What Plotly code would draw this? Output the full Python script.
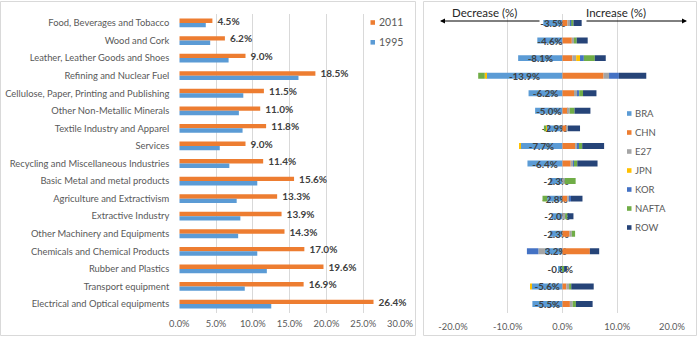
import plotly.graph_objects as go

# ---------------- data ----------------
sectors = [
    "Food, Beverages and Tobacco", "Wood and Cork", "Leather, Leather Goods and Shoes",
    "Refining and Nuclear Fuel", "Cellulose, Paper, Printing and Publishing",
    "Other Non-Metallic Minerals", "Textile Industry and Apparel", "Services",
    "Recycling and Miscellaneous Industries", "Basic Metal and metal products",
    "Agriculture and Extractivism", "Extractive Industry", "Other Machinery and Equipments",
    "Chemicals and Chemical Products", "Rubber and Plastics", "Transport equipment",
    "Electrical and Optical equipments",
]
share_2011 = [4.5, 6.2, 9.0, 18.5, 11.5, 11.0, 11.8, 9.0, 11.4, 15.6, 13.3, 13.9, 14.3, 17.0, 19.6, 16.9, 26.4]
share_1995 = [3.6, 4.2, 6.7, 16.2, 8.7, 8.1, 8.6, 5.5, 6.8, 10.6, 7.8, 8.3, 8.0, 10.6, 11.9, 8.9, 12.5]

regions = ["BRA", "CHN", "E27", "JPN", "KOR", "NAFTA", "ROW"]
chg_BRA = [-3.5, -4.6, -8.1, -13.9, -6.2, -5.0, -2.9, -7.7, -6.4, -2.3, -2.8, -2.0, -2.3, -3.2, -0.8, -5.6, -5.5]
chg_CHN = [0.9, 1.7, 1.8, 7.5, 2.1, 1.0, 0.8, 2.3, 1.5, 0.0, 0.85, 0.0, 1.3, 5.0, 0.0, 0.7, 1.35]
chg_E27 = [0.6, 0.4, 0.7, 1.0, 0.6, 0.3, 0.2, 0.4, 0.5, 0.4, 0.5, 0.5, 0.4, -1.2, 0.0, 0.5, 0.5]
chg_JPN = [0.0, 0.0, 0.7, -0.3, 0.0, 0.0, -0.1, -0.1, 0.0, 0.0, 0.0, 0.0, 0.0, 0.0, 0.0, -0.3, 0.0]
chg_KOR = [0.1, 0.0, 0.7, 1.8, 0.35, 0.0, 0.0, 0.3, 0.1, 0.0, 0.2, 0.0, 0.0, -2.1, 0.0, 0.0, 0.0]
chg_NAFTA = [0.4, 0.5, 2.0, -1.2, 0.7, 0.9, -0.4, 0.6, 0.6, 2.0, -0.85, 0.4, 0.6, 0.0, 0.3, 0.4, 0.6]
chg_ROW = [1.5, 2.0, 2.0, 5.0, 2.45, 2.9, 2.2, 4.0, 3.7, 0.0, 2.1, 1.1, 0.0, 1.7, 0.5, 4.1, 3.05]

left_ticks = [0, 5, 10, 15, 20, 25, 30]
left_ticktext = ["0.0%", "5.0%", "10.0%", "15.0%", "20.0%", "25.0%", "30.0%"]
right_ticks = [-20, -10, 0, 10, 20]
right_ticktext = ["-20.0%", "-10.0%", "0.0%", "10.0%", "20.0%"]

# ---------------- style ----------------
W, H = 697, 338
FONT = "Lato"
GRID = "#D9D9D9"
TXT = "#595959"
LBL = "#404040"
region_colors = ["#5B9BD5", "#ED7D31", "#A5A5A5", "#FFC000", "#4472C4", "#70AD47", "#264478"]


def px(x):
    return x / W


def py(y):
    return 1 - y / H


ydom = [py(312.8), py(14.2)]
ncat = len(sectors)
yrange = [ncat - 0.5, -0.5]

fig = go.Figure()

# left: grouped bars (2011 above, 1995 below)
fig.add_trace(go.Bar(
    y=sectors, x=share_2011, orientation="h", name="2011",
    marker=dict(color="#ED7D31", line=dict(width=0)),
    offset=-0.25, width=0.25, xaxis="x", yaxis="y",
    text=["\u2002<b>%.1f%%</b>" % v for v in share_2011], textposition="outside",
    constraintext="none", textangle=0,
    outsidetextfont=dict(family=FONT, size=10, color=LBL), cliponaxis=False,
))
fig.add_trace(go.Bar(
    y=sectors, x=share_1995, orientation="h", name="1995",
    marker=dict(color="#5B9BD5", line=dict(width=0)),
    offset=0.0, width=0.25, xaxis="x", yaxis="y3",
))

# right: diverging stacked bars
changes = [chg_BRA, chg_CHN, chg_E27, chg_JPN, chg_KOR, chg_NAFTA, chg_ROW]
for name, vals, col in zip(regions, changes, region_colors):
    kw = {}
    if name == "BRA":
        kw = dict(
            text=["<b>%.1f%%</b>" % v for v in vals], textposition="inside",
            insidetextanchor="middle", textangle=0, constraintext="none",
            insidetextfont=dict(family=FONT, size=9.8, color=LBL),
        )
    fig.add_trace(go.Bar(
        y=sectors, x=vals, orientation="h", name=name,
        marker=dict(color=col, line=dict(width=0)), width=0.34,
        xaxis="x2", yaxis="y2", cliponaxis=False, **kw,
    ))

fig.update_layout(
    width=W, height=H, margin=dict(l=0, r=0, t=0, b=0, autoexpand=False),
    paper_bgcolor="white", plot_bgcolor="white",
    barmode="relative", showlegend=False,
    font=dict(family=FONT, color=TXT),
    xaxis=dict(domain=[px(179.3), px(400)], range=[0, 30], anchor="y", automargin=False,
               tickvals=left_ticks, ticktext=left_ticktext, showgrid=True, gridcolor=GRID,
               gridwidth=1, zeroline=False, showline=False, ticks="", ticklabelstandoff=4,
               tickfont=dict(family=FONT, size=9.3, color=TXT)),
    yaxis=dict(domain=ydom, type="category", categoryorder="array", categoryarray=sectors,
               range=yrange, anchor="x", showgrid=False, zeroline=False, ticks="", automargin=False,
               ticklabelstandoff=9, tickfont=dict(family=FONT, size=9.4, color=TXT)),
    yaxis3=dict(domain=ydom, type="category", categoryorder="array", categoryarray=sectors,
                range=yrange, anchor="x", overlaying="y", visible=False, automargin=False),
    xaxis2=dict(domain=[px(453), px(672)], range=[-20, 20], anchor="y2", automargin=False,
                tickvals=right_ticks, ticktext=right_ticktext, showgrid=True, gridcolor=GRID,
                gridwidth=1, zeroline=False, showline=False, ticks="",
                tickfont=dict(family=FONT, size=9.3, color=TXT), ticklabelstandoff=7),
    yaxis2=dict(domain=ydom, type="category", categoryorder="array", categoryarray=sectors,
                range=yrange, anchor="x2", showgrid=False, zeroline=False, automargin=False,
                showticklabels=False, ticks=""),
)

shapes = [
    dict(type="rect", xref="paper", yref="paper", x0=px(0.5), x1=px(415.5), y0=py(335.5), y1=py(1.5),
         line=dict(color=GRID, width=1), layer="below"),
    dict(type="rect", xref="paper", yref="paper", x0=px(423.5), x1=px(696.5), y0=py(335.5), y1=py(1.5),
         line=dict(color=GRID, width=1), layer="below"),
]
annotations = []

# left legend
for i, (name, col) in enumerate([("2011", "#ED7D31"), ("1995", "#5B9BD5")]):
    yc = 22.5 + 19.8 * i
    shapes.append(dict(type="rect", xref="paper", yref="paper", x0=px(370.5), x1=px(375),
                       y0=py(yc + 2.3), y1=py(yc - 2.3), fillcolor=col, line=dict(width=0)))
    annotations.append(dict(xref="paper", yref="paper", x=px(376.5), y=py(yc), text=name,
                            showarrow=False, xanchor="left", yanchor="middle",
                            font=dict(family=FONT, size=10.5, color=TXT)))

# right legend
for i, (name, col) in enumerate(zip(regions, region_colors)):
    yc = 113.5 + 19.0 * i
    shapes.append(dict(type="rect", xref="paper", yref="paper", x0=px(627), x1=px(631.5),
                       y0=py(yc + 2.3), y1=py(yc - 2.3), fillcolor=col, line=dict(width=0)))
    annotations.append(dict(xref="paper", yref="paper", x=px(633), y=py(yc), text=name,
                            showarrow=False, xanchor="left", yanchor="middle",
                            font=dict(family=FONT, size=9.5, color=TXT)))

# arrows and captions
annotations.append(dict(xref="paper", yref="paper", x=px(440), y=py(21), ax=101, ay=0,
                        text="", showarrow=True, arrowhead=2, arrowsize=1, arrowwidth=1,
                        arrowcolor="#000000", standoff=0, startstandoff=0))
annotations.append(dict(xref="paper", yref="paper", x=px(687), y=py(21), ax=-102, ay=0,
                        text="", showarrow=True, arrowhead=2, arrowsize=1, arrowwidth=1,
                        arrowcolor="#000000", standoff=0, startstandoff=0))
annotations.append(dict(xref="paper", yref="paper", x=px(484.5), y=py(13), text="Decrease (%)",
                        showarrow=False, xanchor="center", yanchor="middle",
                        font=dict(family=FONT, size=11.5, color="#262626")))
annotations.append(dict(xref="paper", yref="paper", x=px(616), y=py(13), text="Increase (%)",
                        showarrow=False, xanchor="center", yanchor="middle",
                        font=dict(family=FONT, size=11.5, color="#262626")))

fig.update_layout(shapes=shapes, annotations=annotations)
fig.write_html("out.html")
